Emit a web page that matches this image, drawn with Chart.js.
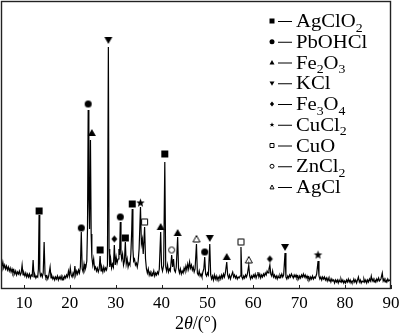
<!DOCTYPE html>
<html>
<head>
<meta charset="utf-8">
<script src="https://cdn.jsdelivr.net/npm/chart.js@4.4.1/dist/chart.umd.min.js"></script>
<style>
  html, body { margin: 0; padding: 0; background: #fff; }
  #wrap { width: 400px; height: 335px; }
</style>
</head>
<body>
<div id="wrap"><canvas id="xrd" width="400" height="335"></canvas></div>
<script>
// XRD pattern of the residue: 2-theta (deg) vs. intensity (a.u.)

const xTicks = [10, 20, 30, 40, 50, 60, 70, 80, 90];

const pattern = [
  [5.0,26],[5.2,22],[5.4,27],[5.6,21],[5.8,24],[6.0,20],[6.2,23],[6.4,19],[6.6,22],[6.8,18],
  [7.0,21],[7.2,17],[7.4,20],[7.6,16],[7.8,19],[8.0,15],[8.2,18],[8.4,14],[8.6,17],[8.8,15],
  [9.0,18],[9.2,14],[9.4,16],[9.6,24],[9.8,14],[10.0,16],[10.2,13],[10.4,16],[10.6,12],[10.8,15],
  [11.0,12],[11.2,15],[11.4,11],[11.6,14],[11.8,13],[12.0,29],[12.2,12],[12.4,14],[12.6,11],[12.8,13],
  [13.0,12],[13.15,20],[13.3,74],[13.45,18],[13.6,13],[13.8,15],[14.0,12],[14.2,16],[14.4,47],[14.6,14],
  [14.8,11],[15.0,13],[15.2,10],[15.4,13],[15.7,22],[15.9,11],[16.1,13],[16.3,10],[16.5,12],[16.7,9],
  [16.9,12],[17.1,10],[17.3,13],[17.5,9],[17.7,12],[17.9,10],[18.1,13],[18.3,9],[18.5,12],[18.7,10],
  [18.9,13],[19.1,11],[19.3,14],[19.5,12],[19.7,18],[19.9,13],[20.1,21],[20.3,14],[20.5,12],[20.7,16],
  [20.9,13],[21.1,23],[21.3,14],[21.5,18],[21.7,15],[21.9,19],[22.1,16],[22.3,22],[22.5,57],[22.7,20],
  [22.9,17],[23.1,25],[23.3,19],[23.5,22],[23.7,28],[23.85,60],[24.0,179],[24.15,90],[24.3,60],[24.5,149],
  [24.65,55],[24.8,32],[25.0,24],[25.2,30],[25.4,20],[25.6,22],[25.8,18],[26.0,21],[26.2,17],[26.4,20],
  [26.6,33],[26.8,18],[27.0,21],[27.2,17],[27.4,22],[27.6,18],[27.8,21],[28.0,19],[28.2,24],[28.4,242],
  [28.55,40],[28.7,22],[28.9,30],[29.1,21],[29.3,25],[29.5,22],[29.7,44],[29.9,24],[30.1,32],[30.3,26],
  [30.5,30],[30.7,40],[30.85,34],[31.0,67],[31.15,36],[31.3,30],[31.5,35],[31.7,24],[31.9,28],[32.1,47],
  [32.3,25],[32.5,30],[32.7,22],[32.9,26],[33.1,24],[33.3,35],[33.5,60],[33.6,80],[33.75,40],[33.9,28],
  [34.1,30],[34.3,24],[34.5,26],[34.7,22],[34.9,28],[35.1,40],[35.4,82],[35.6,45],[35.8,50],[36.0,35],
  [36.3,62],[36.5,30],[36.7,20],[36.9,16],[37.1,20],[37.3,14],[37.5,17],[37.7,13],[37.9,16],[38.1,14],
  [38.3,18],[38.5,13],[38.7,16],[38.9,14],[39.1,17],[39.3,15],[39.5,20],[39.8,57],[40.0,22],[40.2,18],
  [40.45,24],[40.7,127],[40.9,22],[41.1,18],[41.3,24],[41.5,17],[41.7,20],[41.9,18],[42.2,34],[42.4,22],
  [42.6,30],[42.8,19],[43.0,17],[43.2,22],[43.5,52],[43.7,20],[43.9,16],[44.1,20],[44.3,15],[44.5,18],
  [44.7,16],[44.9,21],[45.1,18],[45.3,23],[45.5,19],[45.7,25],[45.9,20],[46.1,27],[46.3,21],[46.5,24],
  [46.7,19],[46.9,22],[47.1,17],[47.3,20],[47.6,45],[47.8,16],[48.0,14],[48.2,18],[48.4,13],[48.6,15],
  [48.8,12],[49.0,17],[49.2,20],[49.4,32],[49.6,15],[49.8,13],[50.0,16],[50.2,14],[50.5,45],[50.7,14],
  [50.9,10],[51.1,13],[51.3,9],[51.5,14],[51.7,10],[51.9,13],[52.1,9],[52.3,12],[52.5,10],[52.7,13],
  [52.9,10],[53.1,14],[53.3,11],[53.5,15],[53.7,12],[53.9,16],[54.2,27],[54.4,14],[54.6,11],[54.8,14],
  [55.0,10],[55.2,13],[55.5,17],[55.7,12],[55.9,14],[56.1,11],[56.3,13],[56.5,10],[56.7,12],[56.9,11],
  [57.1,13],[57.3,42],[57.5,12],[57.7,10],[57.9,13],[58.1,11],[58.3,14],[58.5,12],[58.7,15],[59.0,24],
  [59.2,13],[59.4,10],[59.6,13],[59.8,11],[60.0,14],[60.2,12],[60.4,15],[60.6,11],[60.8,14],[61.0,17],
  [61.2,12],[61.4,15],[61.6,11],[61.8,14],[62.0,12],[62.2,15],[62.4,13],[62.6,16],[62.8,14],[63.0,18],
  [63.2,16],[63.4,20],[63.6,24],[63.8,15],[64.0,13],[64.2,18],[64.4,12],[64.6,14],[64.8,11],[65.0,13],
  [65.2,10],[65.4,13],[65.6,11],[65.8,14],[66.0,12],[66.2,15],[66.4,12],[66.6,14],[66.9,36],[67.1,12],
  [67.3,10],[67.5,13],[67.7,11],[67.9,14],[68.1,12],[68.3,15],[68.5,13],[68.7,11],[68.9,14],[69.1,12],
  [69.3,14],[69.5,11],[69.7,13],[69.9,10],[70.1,13],[70.3,11],[70.5,14],[70.7,12],[70.9,15],[71.1,12],
  [71.3,14],[71.5,11],[71.7,13],[71.9,10],[72.1,12],[72.3,9],[72.5,12],[72.7,10],[72.9,13],[73.1,10],
  [73.3,12],[73.5,11],[73.8,15],[74.1,28],[74.3,13],[74.5,10],[74.7,12],[74.9,9],[75.1,12],[75.3,10],
  [75.5,12],[75.7,9],[75.9,11],[76.1,8],[76.3,11],[76.5,8],[76.7,10],[76.9,7],[77.1,10],[77.3,8],
  [77.5,9],[77.7,6],[77.9,9],[78.1,7],[78.3,9],[78.5,6],[78.7,9],[78.9,7],[79.1,10],[79.3,7],
  [79.5,9],[79.7,6],[79.9,8],[80.1,6],[80.3,9],[80.5,7],[80.7,10],[80.9,7],[81.1,9],[81.3,6],
  [81.5,8],[81.7,7],[81.9,10],[82.1,7],[82.3,9],[82.5,6],[82.7,9],[82.9,12],[83.1,7],[83.3,9],
  [83.5,6],[83.7,8],[83.9,7],[84.1,10],[84.3,7],[84.5,9],[84.7,6],[84.9,9],[85.1,7],[85.3,10],
  [85.5,8],[85.7,13],[85.9,8],[86.1,10],[86.3,7],[86.5,9],[86.7,7],[86.9,10],[87.1,8],[87.3,11],
  [87.5,8],[87.8,10],[88.1,16],[88.3,8],[88.5,10],[88.7,7],[88.9,9],[89.1,7],[89.3,10],[89.5,8],
  [89.7,9],[90.0,8]
];

// phase names (underscore = subscript digit) and the peaks each one is marked on
const phaseNames = ['AgClO_2', 'PbOHCl', 'Fe_2O_3', 'KCl', 'Fe_3O_4', 'CuCl_2', 'CuO', 'ZnCl_2', 'AgCl'];
const phaseMarks = ['square', 'circle', 'up', 'down', 'diamond', 'star', 'openSquare', 'openCircle', 'openUp'];
const agclo2Peaks = [[13.3, 78], [26.6, 39], [32.1, 51], [33.6, 85], [40.7, 135]];
const pbohclPeaks = [[22.5, 61], [24.0, 185], [31.0, 72], [49.4, 37]];
const fe2o3Peaks  = [[24.8, 156], [39.8, 62], [43.5, 56], [54.2, 32]];
const kclPeaks    = [[28.4, 249], [50.5, 51], [66.9, 42]];
const fe3o4Peaks  = [[29.7, 50], [63.6, 30]];
const cucl2Peaks  = [[35.4, 86], [74.1, 34]];
const cuoPeaks    = [[36.3, 67], [57.3, 47]];
const zncl2Peaks  = [[42.2, 39]];
const agclPeaks   = [[47.6, 50], [59.0, 29]];
const phasePeaks = [agclo2Peaks, pbohclPeaks, fe2o3Peaks, kclPeaks, fe3o4Peaks,
                    cucl2Peaks, cuoPeaks, zncl2Peaks, agclPeaks];

const SERIF = '"Liberation Serif", "Times New Roman", serif';

// Draw one marker shape of size s centred on (x, y)
function drawShape(g, kind, x, y, s) {
  const h = s / 2;
  g.fillStyle = '#000';
  g.strokeStyle = '#000';
  g.lineWidth = 1;
  g.beginPath();
  switch (kind) {
    case 'square':
      g.rect(x - h, y - h, s, s); g.fill(); break;
    case 'circle':
      g.arc(x, y, h, 0, Math.PI * 2); g.fill(); break;
    case 'up':
      g.moveTo(x, y - h); g.lineTo(x + h, y + h * 0.75); g.lineTo(x - h, y + h * 0.75);
      g.closePath(); g.fill(); break;
    case 'down':
      g.moveTo(x, y + h); g.lineTo(x + h, y - h * 0.75); g.lineTo(x - h, y - h * 0.75);
      g.closePath(); g.fill(); break;
    case 'diamond':
      g.moveTo(x, y - h); g.lineTo(x + h * 0.85, y); g.lineTo(x, y + h); g.lineTo(x - h * 0.85, y);
      g.closePath(); g.fill(); break;
    case 'star':
      for (let i = 0; i < 10; i++) {
        const r = i % 2 ? h * 0.42 : h;
        const a = -Math.PI / 2 + i * Math.PI / 5;
        g.lineTo(x + r * Math.cos(a), y + r * Math.sin(a));
      }
      g.closePath(); g.fill(); break;
    case 'openSquare':
      g.rect(x - h + 0.5, y - h + 0.5, s - 1, s - 1); g.stroke(); break;
    case 'openCircle':
      g.arc(x, y, h - 0.5, 0, Math.PI * 2); g.stroke(); break;
    case 'openUp':
      g.moveTo(x, y - h + 0.5); g.lineTo(x + h - 0.5, y + h * 0.75); g.lineTo(x - h + 0.5, y + h * 0.75);
      g.closePath(); g.stroke(); break;
  }
}

function markerImage(kind, s) {
  const c = document.createElement('canvas');
  c.width = c.height = s + 4;
  drawShape(c.getContext('2d'), kind, c.width / 2, c.height / 2, s);
  return c;
}

const markerSize = { square: 7, circle: 7, up: 8, down: 8, diamond: 7, star: 9,
                     openSquare: 7, openCircle: 7, openUp: 8 };

// text with "_n" subscripts
function drawChem(g, text, x, y, size) {
  const parts = text.split(/(_\d)/).filter(p => p);
  let cx = x;
  parts.forEach(p => {
    if (p[0] === '_') {
      g.font = Math.round(size * 0.68) + 'px ' + SERIF;
      g.fillText(p.slice(1), cx, y + size * 0.26);
      cx += g.measureText(p.slice(1)).width;
    } else {
      g.font = size + 'px ' + SERIF;
      g.fillText(p, cx, y);
      cx += g.measureText(p).width;
    }
  });
}

// frame, inward ticks, phase key and axis title
const decorations = {
  id: 'decorations',
  afterDraw(chart) {
    const g = chart.ctx;
    const a = chart.chartArea;
    const xs = chart.scales.x;
    g.save();
    g.strokeStyle = '#222';
    g.lineWidth = 1.4;
    g.strokeRect(a.left + 0.5, a.top + 0.5, a.right - a.left - 1, a.bottom - a.top - 1);

    g.lineWidth = 1;
    g.beginPath();
    xTicks.forEach(v => {
      const px = Math.round(xs.getPixelForValue(v)) + 0.5;
      g.moveTo(px, a.bottom);
      g.lineTo(px, a.bottom - 4);
    });
    g.stroke();

    // phase key
    g.fillStyle = '#000';
    g.textBaseline = 'alphabetic';
    phaseNames.forEach((name, i) => {
      const y = 21 + i * 20.75;
      drawShape(g, phaseMarks[i], 272, y, 5);
      g.beginPath();
      g.lineWidth = 1;
      g.moveTo(278, y + 0.5);
      g.lineTo(292, y + 0.5);
      g.stroke();
      g.save();
      g.translate(296, y + 6);
      g.scale(1.15, 1);
      drawChem(g, name, 0, 0, 18);
      g.restore();
    });

    // axis title 2θ/(°)
    const parts = [['2', ''], ['\u03b8', 'italic '], ['/(\u00b0)', '']];
    let w = 0;
    parts.forEach(p => { g.font = p[1] + '18px ' + SERIF; w += g.measureText(p[0]).width; });
    let tx = (a.left + a.right) / 2 - w / 2;
    parts.forEach(p => {
      g.font = p[1] + '18px ' + SERIF;
      g.fillText(p[0], tx, 329);
      tx += g.measureText(p[0]).width;
    });
    g.restore();
  }
};

const datasets = [{
  data: pattern.map(p => ({ x: p[0], y: p[1] })),
  borderColor: '#000',
  borderWidth: 1.2,
  pointRadius: 0,
  tension: 0,
  order: 2
}];

phasePeaks.forEach((peaks, i) => {
  datasets.push({
    label: phaseNames[i],
    data: peaks.map(p => ({ x: p[0], y: p[1] })),
    showLine: false,
    pointStyle: markerImage(phaseMarks[i], markerSize[phaseMarks[i]]),
    pointRadius: 4,
    order: 1
  });
});

new Chart(document.getElementById('xrd'), {
  type: 'line',
  data: { datasets },
  options: {
    responsive: false,
    animation: false,
    layout: { autoPadding: false, padding: { left: 1, top: 1, right: 9, bottom: 0 } },
    plugins: { legend: { display: false }, tooltip: { enabled: false } },
    scales: {
      x: {
        type: 'linear',
        min: 5,
        max: 90,
        grid: { display: false, drawTicks: false },
        border: { display: false },
        afterBuildTicks: s => { s.ticks = xTicks.map(v => ({ value: v })); },
        afterFit: s => {
          s.height = 46;
          // keep the plot box fixed; the end labels may overhang it
          s.paddingLeft = 0;
          s.paddingRight = 0;
        },
        ticks: {
          color: '#000',
          padding: 4,
          maxRotation: 0,
          autoSkip: false,
          font: { family: SERIF, size: 17 }
        }
      },
      y: { display: false, min: 0, max: 288 }
    }
  },
  plugins: [decorations]
});
</script>
</body>
</html>
